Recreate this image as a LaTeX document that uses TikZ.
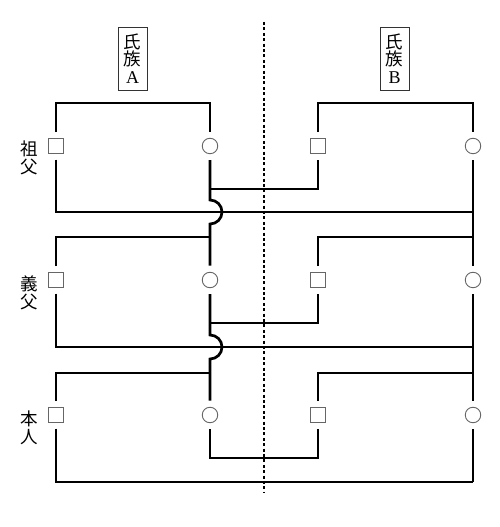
\documentclass[tikz,border=0pt]{standalone}
\usepackage{fontspec}
\setmainfont{Liberation Serif}
\newfontfamily\cjk{Noto Sans CJK JP}
\begin{document}
\begin{tikzpicture}[x=1pt,y=1pt,
  kin/.style={line width=2.7pt, line join=miter},
  male/.style={draw=black!60, line width=0.9pt, rectangle, minimum size=14.5pt, inner sep=0pt, outer sep=6.5pt, fill=white},
  female/.style={draw=black!60, line width=0.9pt, circle, minimum size=15.5pt, inner sep=0pt, outer sep=6.5pt, fill=white},
  gen/.style={font=\cjk\fontsize{17.5}{18}\selectfont, align=center, inner sep=0pt},
  clan/.style={draw=black!80, line width=0.9pt, font=\cjk\fontsize{17.5}{17.5}\selectfont, align=center, minimum width=29pt, minimum height=63pt, inner sep=0pt},
  divider/.style={line width=1.4pt, dash pattern=on 3pt off 2.4pt}
]
\useasboundingbox (0,0) rectangle (500,527);

% clan labels
\node[clan] (clanA) at (132.5,468.5) {氏\\族\\{\normalfont\fontsize{18}{17.5}\selectfont A}};
\node[clan] (clanB) at (394.5,468.5) {氏\\族\\{\normalfont\fontsize{18}{17.5}\selectfont B}};

% divider
\coordinate (dTop) at (264,505);
\coordinate (dBot) at (264,35);
\draw[divider] (dTop) -- (dBot);

% generation labels
\node[gen] (g1) at (29,369) {祖\\父};
\node[gen] (g2) at (29,234) {義\\父};
\node[gen] (g3) at (29,99) {本\\人};

% persons
\node[male]   (sA1) at (56,381) {};
\node[female] (cA1) at (210,381) {};
\node[male]   (sB1) at (318,381) {};
\node[female] (cB1) at (473,381) {};
\node[male]   (sA2) at (56,247) {};
\node[female] (cA2) at (210,247) {};
\node[male]   (sB2) at (318,247) {};
\node[female] (cB2) at (473,247) {};
\node[male]   (sA3) at (56,112) {};
\node[female] (cA3) at (210,112) {};
\node[male]   (sB3) at (318,112) {};
\node[female] (cB3) at (473,112) {};

% corner coordinates
\coordinate (tA1) at (210,424);
\coordinate (tB1) at (473,424);
\coordinate (mA1) at (210,338);
\coordinate (hA1) at (210,327);
\coordinate (bL1) at (56,315);
\coordinate (bR1) at (473,315);
\coordinate (tA2) at (210,290);
\coordinate (tB2) at (473,290);
\coordinate (mA2) at (210,204);
\coordinate (hA2) at (210,192);
\coordinate (bL2) at (56,180);
\coordinate (bR2) at (473,180);
\coordinate (tA3) at (210,154);
\coordinate (tB3) at (473,154);
\coordinate (mA3) at (210,69);
\coordinate (bR3) at (473,45);

% row 1
\draw[kin] (sA1.north) |- (tA1) -- (cA1.north);
\draw[kin] (sB1.north) |- (tB1) -- (cB1.north);
\draw[kin] (sA1.south) -- (bL1) -- (bR1);
\draw[kin] (mA1) -| (sB1.south);
\draw[kin] (cA1.south) -- (hA1) arc (90:-90:12) -- (tA2) -- (cA2.north);

% row 2
\draw[kin] (sA2.north) |- (tA2);
\draw[kin] (sB2.north) |- (tB2);
\draw[kin] (sA2.south) -- (bL2) -- (bR2);
\draw[kin] (mA2) -| (sB2.south);
\draw[kin] (cA2.south) -- (hA2) arc (90:-90:12) -- (tA3) -- (cA3.north);

% row 3
\draw[kin] (sA3.north) |- (tA3);
\draw[kin] (sB3.north) |- (tB3);
\draw[kin] (cA3.south) -- (mA3) -| (sB3.south);
\draw[kin] (sA3.south) |- (bR3);

% clan B right column
\draw[kin] (cB1.south) -- (cB2.north);
\draw[kin] (cB2.south) -- (cB3.north);
\draw[kin] (cB3.south) -- (bR3);
\end{tikzpicture}
\end{document}
